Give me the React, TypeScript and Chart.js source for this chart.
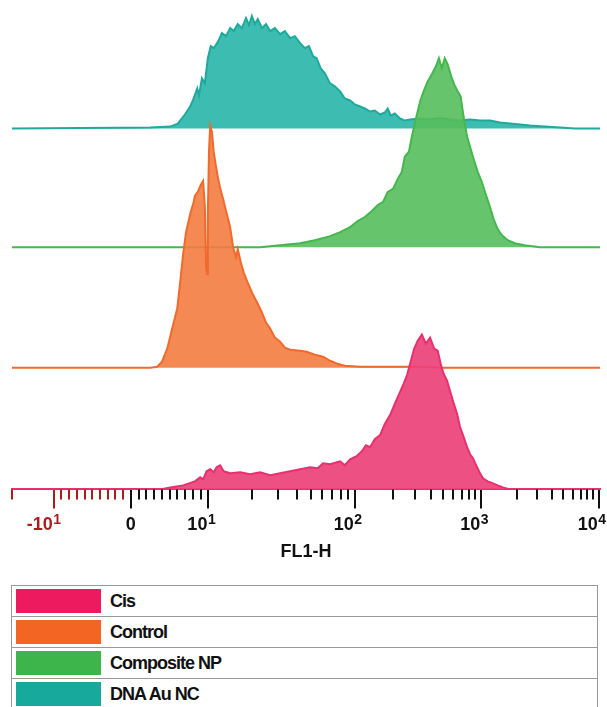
import React, { useEffect, useRef } from "react";
import { Chart, registerables } from "chart.js";

Chart.register(...registerables);

// ---- Data (x in display channels 0..1000 of the biexponential FL1-H axis, y = event counts) ----
const SERIES_NAMES = ["Cis", "Control", "Composite NP", "DNA Au NC"];
const SERIES_OFFSETS = [0, 121, 241, 359];

const CIS_CH = [0, 252, 269, 291, 311, 320, 325, 331, 337, 343, 348, 354, 360, 371, 388, 405, 422, 439, 456, 473, 490, 507, 520, 529, 541, 558, 566, 575, 586, 595, 602, 609, 617, 626, 634, 643, 651, 660, 666, 672, 677, 684, 690, 697, 704, 711, 718, 724, 729, 734, 740, 745, 750, 757, 762, 767, 774, 779, 784, 791, 796, 801, 809, 818, 826, 835, 847, 1000];
const CIS_COUNT = [0, 0, 2, 4, 8, 12, 10, 18, 20, 17, 22, 24, 18, 16, 17, 15, 17, 14, 16, 18, 20, 22, 21, 26, 25, 28, 24, 30, 33, 38, 44, 42, 50, 54, 65, 74, 85, 97, 105, 114, 125, 140, 148, 154, 145, 151, 140, 138, 125, 115, 108, 98, 88, 75, 62, 54, 42, 35, 31, 22, 16, 11, 8, 6, 4, 2, 0, 0];

const CONTROL_CH = [0, 235, 247, 255, 264, 272, 281, 286, 291, 296, 303, 309, 311, 316, 321, 325, 328, 330, 332, 333, 335, 337, 340, 343, 347, 350, 354, 359, 364, 371, 376, 381, 384, 389, 394, 400, 408, 416, 425, 432, 439, 447, 456, 464, 473, 490, 501, 515, 529, 541, 553, 566, 592, 694, 728, 1000];
const CONTROL_COUNT = [0, 0, 1, 6, 19, 38, 59, 85, 113, 135, 153, 165, 171, 175, 182, 186, 160, 100, 93, 150, 215, 241, 235, 215, 200, 190, 179, 168, 156, 140, 120, 110, 118, 105, 95, 86, 75, 66, 55, 45, 39, 30, 26, 20, 18, 17, 16, 13, 11, 7, 4, 2, 1, 1, 0, 0];

const COMPOSITE_CH = [0, 422, 456, 490, 515, 541, 558, 575, 588, 600, 612, 622, 631, 639, 648, 656, 663, 668, 675, 680, 687, 694, 700, 707, 714, 721, 726, 731, 736, 741, 747, 752, 758, 763, 768, 774, 779, 785, 792, 799, 806, 813, 819, 826, 833, 843, 855, 872, 898, 1000];
const COMPOSITE_COUNT = [0, 0, 2, 4, 7, 11, 15, 20, 26, 30, 36, 42, 45, 55, 58, 68, 75, 90, 95, 110, 128, 145, 155, 165, 172, 180, 188, 178, 188, 182, 170, 162, 155, 150, 130, 110, 100, 88, 75, 65, 52, 40, 28, 18, 12, 7, 4, 2, 0, 0];

const DNA_CH = [0, 235, 269, 282, 294, 303, 309, 315, 318, 323, 328, 333, 338, 343, 350, 357, 364, 371, 377, 384, 391, 398, 403, 408, 413, 418, 425, 432, 439, 447, 456, 464, 473, 481, 490, 498, 505, 512, 518, 525, 532, 541, 549, 558, 566, 575, 583, 592, 600, 609, 617, 626, 634, 639, 644, 651, 660, 668, 677, 694, 711, 728, 745, 762, 779, 796, 813, 830, 847, 864, 881, 906, 932, 957, 1000];
const DNA_COUNT = [0, 1, 2, 5, 14, 22, 30, 40, 33, 50, 45, 70, 82, 80, 86, 95, 92, 100, 97, 104, 100, 110, 103, 112, 104, 109, 100, 104, 97, 100, 94, 97, 90, 92, 85, 80, 82, 72, 70, 60, 55, 45, 42, 37, 30, 28, 24, 22, 20, 17, 18, 14, 16, 20, 13, 15, 10, 8, 9, 10, 9, 11, 9, 8, 9, 8, 8, 6, 5, 4, 3, 2, 1, 0, 0];

const SERIES_CH = [CIS_CH, CONTROL_CH, COMPOSITE_CH, DNA_CH];
const SERIES_COUNT = [CIS_COUNT, CONTROL_COUNT, COMPOSITE_COUNT, DNA_COUNT];

// Major ticks of the biexponential axis: value, display channel, label (base + exponent)
const TICK_VALUES = [-10, 0, 10, 100, 1000, 10000];
const TICK_CHANNELS = [71, 202, 334, 583, 798, 998];
const TICK_BASES = ["-10", "0", "10", "10", "10", "10"];
const TICK_EXPONENTS = ["1", "", "1", "2", "3", "4"];
const AXIS_TITLE = "FL1-H";

// ---- Styles ----
const LINE_COLORS = ["#e8306f", "#ef6a2c", "#45b74e", "#1fa99c"];
const FILL_COLORS = ["rgba(236,66,120,0.92)", "rgba(243,124,64,0.9)", "rgba(85,190,92,0.9)", "rgba(44,183,170,0.92)"];
const LEGEND_COLORS = ["#ee1a5f", "#f26522", "#3db54a", "#17a99c"];
const NEG_RED = "#b01c1c";
const FONT = "'Liberation Sans', Arial, sans-serif";

function minorTickChannels() {
  const out: { ch: number; red: boolean }[] = [{ ch: 0, red: true }];
  const cNeg = TICK_CHANNELS[0], c0 = TICK_CHANNELS[1], c10 = TICK_CHANNELS[2];
  for (let m = 1; m <= 9; m++) out.push({ ch: cNeg + ((c0 - cNeg) * m) / 10, red: true });
  for (let m = 1; m <= 9; m++) out.push({ ch: c0 + ((c10 - c0) * m) / 10, red: false });
  for (let k = 2; k < TICK_CHANNELS.length - 1; k++) {
    const a = TICK_CHANNELS[k], b = TICK_CHANNELS[k + 1];
    for (let m = 2; m <= 9; m++) out.push({ ch: a + Math.log10(m) * (b - a), red: false });
  }
  return out;
}
const MINOR = minorTickChannels();

const axisDecorPlugin = {
  id: "axisDecor",
  afterDraw(chart: any) {
    const s = chart.scales.x;
    const ctx = chart.ctx;
    ctx.save();
    // minor ticks
    ctx.lineWidth = 2;
    for (const t of MINOR) {
      const px = Math.round(s.getPixelForValue(t.ch));
      ctx.strokeStyle = t.red ? NEG_RED : "#111";
      ctx.beginPath();
      ctx.moveTo(px, s.top);
      ctx.lineTo(px, s.top + 10);
      ctx.stroke();
    }
    // major tick labels with superscript exponents
    const baseY = s.top + 41;
    const expY = s.top + 35;
    TICK_CHANNELS.forEach((ch, i) => {
      const px = s.getPixelForValue(ch);
      ctx.fillStyle = TICK_VALUES[i] < 0 ? NEG_RED : "#111";
      ctx.textBaseline = "alphabetic";
      ctx.font = `bold 18px ${FONT}`;
      if (TICK_EXPONENTS[i]) {
        ctx.textAlign = "right";
        ctx.fillText(TICK_BASES[i], px - 1, baseY);
        ctx.font = `bold 14px ${FONT}`;
        ctx.textAlign = "left";
        ctx.fillText(TICK_EXPONENTS[i], px - 0.5, expY);
      } else {
        ctx.textAlign = "center";
        ctx.fillText(TICK_BASES[i], px, baseY);
      }
    });
    ctx.restore();
  },
};

export default function App() {
  const ref = useRef<HTMLCanvasElement>(null);
  useEffect(() => {
    if (!ref.current) return;
    const datasets = SERIES_NAMES.map((name, i) => ({
      label: name,
      data: SERIES_CH[i].map((c, j) => ({ x: c, y: SERIES_OFFSETS[i] + SERIES_COUNT[i][j] })),
      borderColor: LINE_COLORS[i],
      backgroundColor: FILL_COLORS[i],
      borderWidth: 2,
      pointRadius: 0,
      tension: 0,
      fill: { value: SERIES_OFFSETS[i] },
    }));
    const chart = new Chart(ref.current, {
      type: "line",
      data: { datasets },
      options: {
        animation: false,
        responsive: false,
        layout: { padding: { top: 10, left: 12, right: 7, bottom: 0 } },
        plugins: { legend: { display: false }, tooltip: { enabled: false } },
        scales: {
          x: {
            type: "linear",
            min: 0,
            max: 1000,
            afterBuildTicks: (scale: any) => {
              scale.ticks = TICK_CHANNELS.map((v) => ({ value: v }));
            },
            afterFit: (scale: any) => {
              scale.paddingLeft = 0;
              scale.paddingRight = 0;
            },
            border: { display: true, color: "#e8306f", width: 2 },
            grid: {
              drawOnChartArea: false,
              drawTicks: true,
              tickLength: 19,
              lineWidth: 2,
              color: (c: any) => (c.tick && c.tick.value < TICK_CHANNELS[1] ? NEG_RED : "#111"),
            },
            ticks: { display: false },
            title: {
              display: true,
              text: AXIS_TITLE,
              color: "#111",
              font: { family: FONT, size: 18, weight: "bold" },
              padding: { top: 33, bottom: 0 },
            },
          },
          y: { display: false, min: 0, max: 477 },
        },
      },
      plugins: [axisDecorPlugin],
    });
    return () => chart.destroy();
  }, []);

  return (
    <div style={{ position: "fixed", left: 0, top: 0, width: 607, height: 707, background: "#fff", overflow: "hidden" }}>
      <canvas ref={ref} width={607} height={563} style={{ display: "block" }} />
      <div
        style={{
          position: "absolute",
          left: 11,
          top: 585,
          width: 585,
          border: "1px solid #999",
          borderBottom: "none",
          fontFamily: FONT,
        }}
      >
        {SERIES_NAMES.map((name, i) => (
          <div
            key={name}
            style={{
              height: 30,
              borderBottom: "1px solid #999",
              display: "flex",
              alignItems: "center",
            }}
          >
            <div style={{ width: 85, height: 24, marginLeft: 4, background: LEGEND_COLORS[i] }} />
            <div style={{ marginLeft: 9, fontWeight: "bold", fontSize: 18, letterSpacing: -1, color: "#111" }}>{name}</div>
          </div>
        ))}
      </div>
    </div>
  );
}
